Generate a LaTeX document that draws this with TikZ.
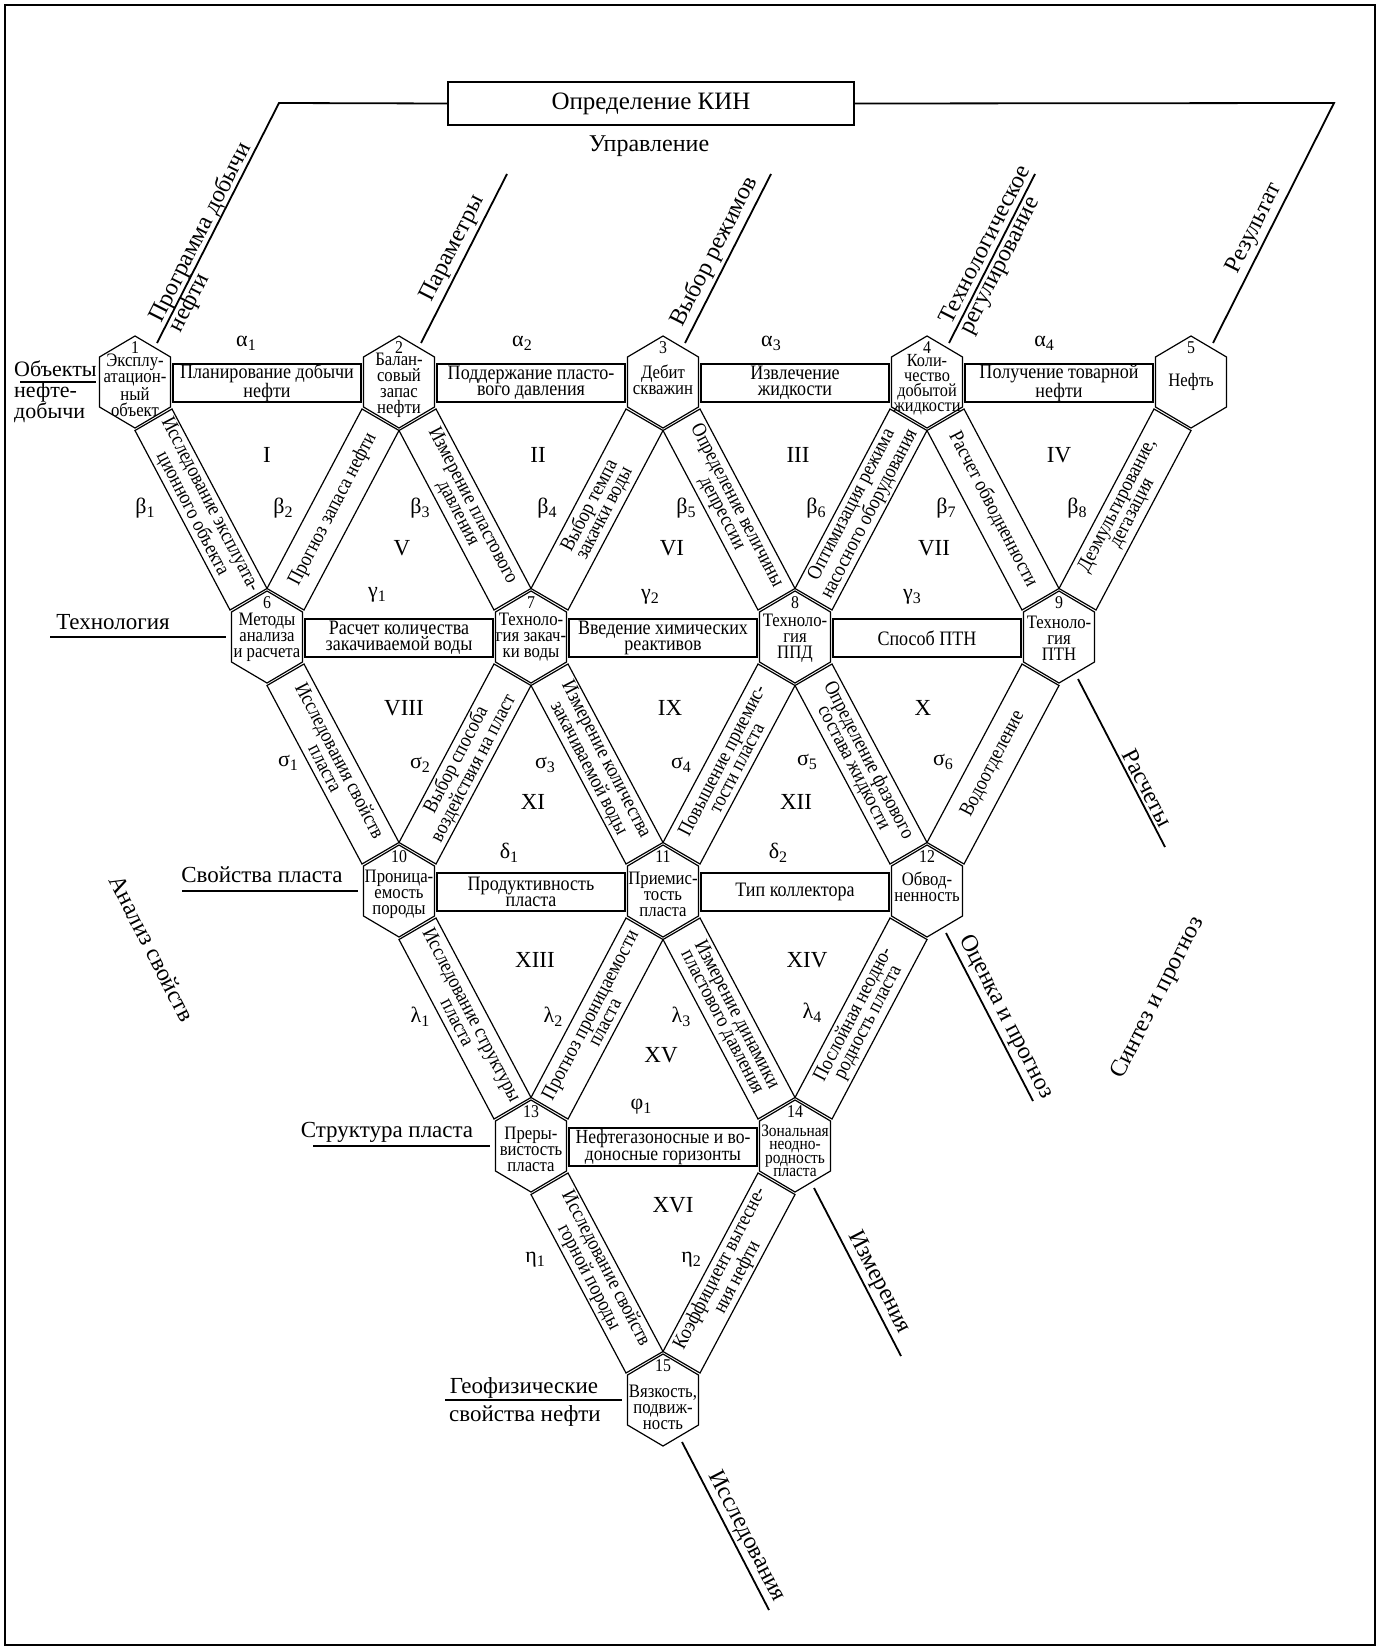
\documentclass[tikz,border=0pt]{standalone}
\usepackage{fontspec}
\setmainfont{Liberation Serif}
\newfontfamily\narrowfont{Liberation Serif}[FakeStretch=0.88]
\usepackage{tikz}
\usetikzlibrary{calc}
\tikzset{
  cellline/.style={draw=black,line width=1.2pt,line join=miter},
  hexbox/.style={minimum width=71pt,minimum height=92pt,inner sep=0pt,outer sep=0pt},
  hexnum/.style={font=\narrowfont\fontsize{18}{18}\selectfont,inner sep=0pt},
  hextext/.style={font=\narrowfont\fontsize{19}{16}\selectfont,align=center,inner sep=0pt},
  boxtext/.style={font=\narrowfont\fontsize{20.5}{16.5}\selectfont,align=center,inner sep=0pt},
  bandtext/.style={font=\narrowfont\fontsize{20.5}{16.5}\selectfont,align=center,inner sep=0pt},
  kinbox/.style={draw=black,line width=1.7pt,minimum width=406pt,minimum height=43pt,inner sep=0pt,font=\fontsize{25}{25}\selectfont},
  axisline/.style={line width=1.8pt},
  axislabel/.style={font=\fontsize{24}{22}\selectfont,inner sep=3pt},
  sidelabel/.style={font=\fontsize{23}{22}\selectfont,inner sep=0pt},
  labelrule/.style={line width=2.6pt},
  greek/.style={font=\fontsize{22}{22}\selectfont,inner sep=0pt},
  roman/.style={font=\fontsize{23}{23}\selectfont,inner sep=0pt}
}
\newcommand{\greekidx}[2]{#1\raisebox{-0.4ex}{\fontsize{16}{16}\selectfont #2}}
\newcommand{\hexcell}[5]{%
  \node[hexbox] (#1) at (#2) {};
  \draw[cellline] ($(#1)+(0,-46)$) -- ($(#1)+(35.5,-25)$) -- ($(#1)+(35.5,25)$)
    -- ($(#1)+(0,46)$) -- ($(#1)+(-35.5,25)$) -- ($(#1)+(-35.5,-25)$) -- cycle;
  \node[hexnum] (#1-num) at ($(#1)+(0,-34)$) {#3};
  \node[hextext,#4] (#1-txt) at (#1) {#5};
}
\newcommand{\bandright}[3]{%
  \draw[cellline] ($(#1)+(0,48.5)$) -- ($(#1)+(37,27)$) -- ($(#2)+(0,-48.5)$) -- ($(#2)+(-37,-27)$) -- cycle;
  \node[bandtext,rotate=-62.6] (#1#2) at ($(#1)!0.5!(#2)$) {#3};
}
\newcommand{\bandleft}[3]{%
  \draw[cellline] ($(#1)+(0,48.5)$) -- ($(#1)+(-37,27)$) -- ($(#2)+(0,-48.5)$) -- ($(#2)+(37,-27)$) -- cycle;
  \node[bandtext,rotate=62.6] (#1#2) at ($(#1)!0.5!(#2)$) {#3};
}
\newcommand{\linkbox}[4][]{%
  \draw[cellline] ($(#2)+(38,-18)$) rectangle ($(#3)+(-38,20)$);
  \node[boxtext,#1] (#2#3) at ($(#2)!0.5!(#3)+(0,1)$) {#4};
}

\begin{document}
\begin{tikzpicture}[x=1pt,y=-1pt]
\useasboundingbox (0,0) rectangle (1380,1651);
\draw[line width=2pt] (5,5) rectangle (1375,1645);

\hexcell{h1}{135,382}{1}{yshift=-3pt}{Эксплу-\\атацион-\\ный\\объект}
\hexcell{h2}{399,382}{2}{yshift=-3pt}{Балан-\\совый\\запас\\нефти}
\hexcell{h3}{663,382}{3}{yshift=2pt}{Дебит\\скважин}
\hexcell{h4}{927,382}{4}{yshift=-3pt,font=\narrowfont\fontsize{18.5}{15}\selectfont}{Коли-\\чество\\добытой\\жидкости}
\hexcell{h5}{1191,382}{5}{}{Нефть}
\hexcell{h6}{267,637}{6}{}{Методы\\анализа\\и расчета}
\hexcell{h7}{531,637}{7}{}{Техноло-\\гия закач-\\ки воды}
\hexcell{h8}{795,637}{8}{yshift=-1pt}{Техноло-\\гия\\ППД}
\hexcell{h9}{1059,637}{9}{yshift=-1pt}{Техноло-\\гия\\ПТН}
\hexcell{h10}{399,891}{10}{yshift=-3pt}{Проница-\\емость\\породы}
\hexcell{h11}{663,891}{11}{yshift=-3pt}{Приемис-\\тость\\пласта}
\hexcell{h12}{927,891}{12}{yshift=4pt}{Обвод-\\ненность}
\hexcell{h13}{531,1146}{13}{yshift=-3pt}{Преры-\\вистость\\пласта}
\hexcell{h14}{795,1146}{14}{yshift=-5pt,font=\narrowfont\fontsize{17.5}{13.5}\selectfont}{Зональная\\неодно-\\родность\\пласта}
\hexcell{h15}{663,1400}{15}{yshift=-7pt}{Вязкость,\\подвиж-\\ность}

\linkbox{h1}{h2}{Планирование добычи\\нефти}
\linkbox{h2}{h3}{Поддержание пласто-\\вого давления}
\linkbox{h3}{h4}{Извлечение\\жидкости}
\linkbox{h4}{h5}{Получение товарной\\нефти}
\linkbox{h6}{h7}{Расчет количества\\закачиваемой воды}
\linkbox{h7}{h8}{Введение химических\\реактивов}
\linkbox{h8}{h9}{Способ ПТН}
\linkbox{h10}{h11}{Продуктивность\\пласта}
\linkbox{h11}{h12}{Тип коллектора}
\linkbox[font=\narrowfont\fontsize{20}{16.5}\selectfont]{h13}{h14}{Нефтегазоносные и во-\\доносные горизонты}

\bandright{h1}{h6}{Исследование эксплуата-\\ционного объекта}
\bandleft{h2}{h6}{Прогноз запаса нефти}
\bandright{h2}{h7}{Измерение пластового\\давления}
\bandleft{h3}{h7}{Выбор темпа\\закачки воды}
\bandright{h3}{h8}{Определение величины\\депрессии}
\bandleft{h4}{h8}{Оптимизация режима\\насосного оборудования}
\bandright{h4}{h9}{Расчет обводненности}
\bandleft{h5}{h9}{Деэмульгирование,\\дегазация}
\bandright{h6}{h10}{Исследования свойств\\пласта}
\bandleft{h7}{h10}{Выбор способа\\воздействия на пласт}
\bandright{h7}{h11}{Измерение количества\\закачиваемой воды}
\bandleft{h8}{h11}{Повышение приемис-\\тости пласта}
\bandright{h8}{h12}{Определение фазового\\состава жидкости}
\bandleft{h9}{h12}{Водоотделение}
\bandright{h10}{h13}{Исследование структуры\\пласта}
\bandleft{h11}{h13}{Прогноз проницаемости\\пласта}
\bandright{h11}{h14}{Измерение динамики\\пластового давления}
\bandleft{h12}{h14}{Послойная неодно-\\родность пласта}
\bandright{h13}{h15}{Исследование свойств\\горной породы}
\bandleft{h14}{h15}{Коэффициент вытесне-\\ния нефти}

\node[kinbox] (kin) at (651,103.5) {Определение КИН};
\node[sidelabel,font=\fontsize{24}{22}\selectfont] (upr) at (649,146) {Управление};
\coordinate (bendL) at (279,103);
\coordinate (bendR) at (1334,103);
\coordinate (parEnd) at ($(h2)+(108,-208)$);
\coordinate (modEnd) at ($(h3)+(108,-208)$);
\coordinate (regEnd) at ($(h4)+(108,-208)$);
\draw[axisline] ($(h1)+(22,-39)$) -- node[pos=0.44,sloped,axislabel,align=left] (prog) {Программа добычи\\нефти} (bendL) -- (kin.west);
\draw[axisline] ($(h2)+(22,-39)$) -- node[pos=0.52,sloped,above,axislabel] (par) {Параметры} (parEnd);
\draw[axisline] ($(h3)+(22,-39)$) -- node[pos=0.5,sloped,above,axislabel] (mod) {Выбор режимов} (modEnd);
\draw[axisline] ($(h4)+(22,-39)$) -- node[pos=0.55,sloped,axislabel,align=left] (reg) {Технологическое\\регулирование} (regEnd);
\draw[axisline] ($(h5)+(22,-39)$) -- node[pos=0.45,sloped,above,axislabel] (res) {Результат} (bendR) -- (kin.east);

\coordinate (raschEnd) at ($(h9)+(106,210)$);
\coordinate (ocenEnd) at ($(h12)+(106,210)$);
\coordinate (izmEnd) at ($(h14)+(106,210)$);
\coordinate (issEnd) at ($(h15)+(106,210)$);
\draw[axisline] ($(h9)+(19,42)$) -- node[pos=0.68,sloped,above,axislabel] (rasch) {Расчеты} (raschEnd);
\draw[axisline] ($(h12)+(19,42)$) -- node[pos=0.54,sloped,above,axislabel] (ocen) {Оценка и прогноз} (ocenEnd);
\draw[axisline] ($(h14)+(19,42)$) -- node[pos=0.6,sloped,above,axislabel] (izm) {Измерения} (izmEnd);
\draw[axisline] ($(h15)+(19,42)$) -- node[pos=0.6,sloped,above,axislabel] (iss) {Исследования} (issEnd);

\node[sidelabel,anchor=base west,font=\fontsize{22}{21}\selectfont] (objA) at (14,376) {Объекты};
\node[sidelabel,anchor=north west,align=left,font=\fontsize{22}{21}\selectfont] (objB) at (14,382) {нефте-\\добычи};
\coordinate (objL) at (20,382);
\draw[labelrule] (objL) -- ([xshift=-4pt]h1.west);
\node[sidelabel,anchor=base] (tech) at (113,629) {Технология};
\coordinate (techL) at (50,637);
\draw[labelrule] (techL) -- ([xshift=-6pt]h6.west);
\node[sidelabel,anchor=base] (svpl) at (262,882) {Свойства пласта};
\coordinate (svplL) at (182,891);
\draw[labelrule] (svplL) -- ([xshift=-6pt]h10.west);
\node[sidelabel,anchor=base] (strpl) at (387,1137) {Структура пласта};
\coordinate (strplL) at (313,1146);
\draw[labelrule] (strplL) -- ([xshift=-6pt]h13.west);
\node[sidelabel,anchor=base] (geoA) at (524,1393) {Геофизические};
\node[sidelabel,anchor=base] (geoB) at (525,1421) {свойства нефти};
\coordinate (geoL) at (445,1400);
\draw[labelrule] (geoL) -- ([xshift=-6pt]h15.west);
\node[sidelabel,font=\fontsize{24}{22}\selectfont,rotate=-63] (anal) at (152,948) {Анализ свойств};
\node[sidelabel,font=\fontsize{24}{22}\selectfont,rotate=63] (synth) at (1158,998) {Синтез и прогноз};

\foreach \n/\p in {1/{246,343},2/{522,343},3/{771,343},4/{1044,343}}
  \node[greek] (al\n) at (\p) {\greekidx{α}{\n}};
\foreach \n/\p in {1/{145,508},2/{283,508},3/{420,508},4/{547,508},5/{686,508},6/{816,508},7/{946,508},8/{1077,508}}
  \node[greek] (be\n) at (\p) {\greekidx{β}{\n}};
\foreach \n/\p in {1/{377,595},2/{650,597},3/{912,597}}
  \node[greek] (ga\n) at (\p) {\greekidx{γ}{\n}};
\foreach \n/\p in {1/{288,763},2/{420,765},3/{545,765},4/{681,765},5/{807,762},6/{943,762}}
  \node[greek] (si\n) at (\p) {\greekidx{σ}{\n}};
\foreach \n/\p in {1/{509,853},2/{778,853}}
  \node[greek] (de\n) at (\p) {\greekidx{δ}{\n}};
\foreach \n/\p in {1/{420,1017},2/{553,1017},3/{681,1017},4/{812,1013}}
  \node[greek] (la\n) at (\p) {\greekidx{λ}{\n}};
\node[greek] (ph1) at (641,1107) {\greekidx{φ}{1}};
\foreach \n/\p in {1/{535,1260},2/{691,1260}}
  \node[greek] (et\n) at (\p) {\greekidx{η}{\n}};

\foreach \r/\p in {I/{267,455},II/{538,455},III/{798,455},IV/{1059,455},V/{402,548},VI/{672,548},VII/{934,548},VIII/{404,708},IX/{670,708},X/{923,708},XI/{533,802},XII/{796,802},XIII/{535,960},XIV/{807,960},XV/{661,1055},XVI/{673,1205}}
  \node[roman] (n\r) at (\p) {\r};
\end{tikzpicture}
\end{document}
